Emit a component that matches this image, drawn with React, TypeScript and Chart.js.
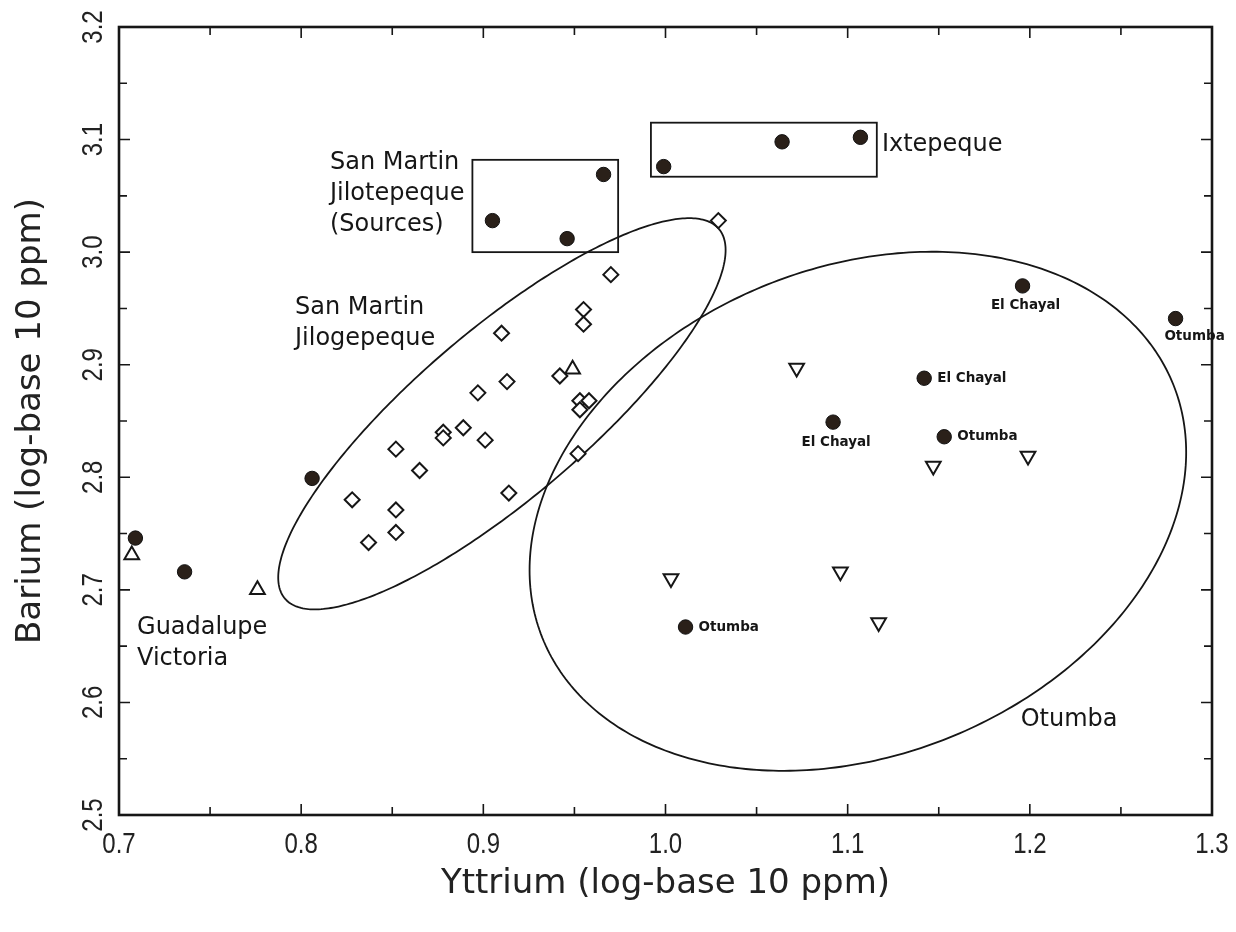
import React, { useEffect, useRef } from 'react';
import { Chart, registerables } from 'chart.js';

Chart.register(...registerables);

// ---------- data ----------
const circleX = [0.709, 0.736, 0.806, 0.905, 0.946, 0.966, 0.999, 1.064, 1.107, 1.196, 1.280, 1.142, 1.092, 1.153, 1.011];
const circleY = [2.746, 2.716, 2.799, 3.028, 3.012, 3.069, 3.076, 3.098, 3.102, 2.970, 2.941, 2.888, 2.849, 2.836, 2.667];
const circleLabels = ['', '', '', '', '', '', '', '', '', 'El Chayal', 'Otumba', 'El Chayal', 'El Chayal', 'Otumba', 'Otumba'];

const diamondX = [1.029, 0.970, 0.955, 0.955, 0.910, 0.942, 0.913, 0.897, 0.953, 0.958, 0.953, 0.878, 0.878, 0.889, 0.901, 0.852, 0.952, 0.865, 0.914, 0.828, 0.852, 0.852, 0.837];
const diamondY = [3.028, 2.980, 2.949, 2.936, 2.928, 2.890, 2.885, 2.875, 2.868, 2.868, 2.860, 2.840, 2.835, 2.844, 2.833, 2.825, 2.821, 2.806, 2.786, 2.780, 2.771, 2.751, 2.742];

const upTriX = [0.707, 0.776, 0.949];
const upTriY = [2.731, 2.700, 2.896];

const downTriX = [1.072, 1.147, 1.199, 1.003, 1.096, 1.117];
const downTriY = [2.897, 2.810, 2.819, 2.710, 2.716, 2.671];

// rectangles around source groups (data units)
const boxLeft = [0.894, 0.992];
const boxRight = [0.974, 1.116];
const boxBottom = [3.000, 3.067];
const boxTop = [3.082, 3.115];

// ellipses: centre and two conjugate half-axes (data units)
const ellipseCX = [0.9102, 1.1056];
const ellipseCY = [2.8564, 2.7698];
const ellipseAxisA = [[0.1191, 0.1642], [0.1732, 0.1124]];
const ellipseAxisB = [[0.0299, -0.0569], [0.0498, -0.2013]];

// annotation texts and anchors (data units, anchor = left / first line)
const noteLines = [['San Martin', 'Jilotepeque', '(Sources)'], ['San Martin', 'Jilogepeque'], ['Guadalupe', 'Victoria'], ['Ixtepeque'], ['Otumba']];
const noteX = [0.8158, 0.7966, 0.7099, 1.1188, 1.195];
const noteY = [3.079, 2.951, 2.666, 3.095, 2.585];

// ticks
const xMajorTicks = [0.7, 0.8, 0.9, 1.0, 1.1, 1.2, 1.3];
const xTickLabels = ['0.7', '0.8', '0.9', '1.0', '1.1', '1.2', '1.3'];
const xMinorTicks = [0.75, 0.85, 0.95, 1.05, 1.15, 1.25];
const yMajorTicks = [2.5, 2.6, 2.7, 2.8, 2.9, 3.0, 3.1, 3.2];
const yTickLabels = ['2.5', '2.6', '2.7', '2.8', '2.9', '3.0', '3.1', '3.2'];
const yMinorTicks = [2.55, 2.65, 2.75, 2.85, 2.95, 3.05, 3.15];

const xTitle = 'Yttrium (log-base 10 ppm)';
const yTitle = 'Barium (log-base 10 ppm)';

// ---------- styles ----------
const INK = '#161616';
const DOT = '#2a2019';
const TXT_FONT = "'DejaVu Sans', 'Liberation Sans', sans-serif";
const NUM_FONT = "'Liberation Sans', 'DejaVu Sans', sans-serif";
const labelPlacement = ['', '', '', '', '', '', '', '', '', 'below', 'belowRight', 'right', 'below', 'right', 'right'];

const zip = (xs: number[], ys: number[]) => xs.map((x, i) => ({ x, y: ys[i] }));

const decorPlugin = {
  id: 'decor',
  beforeDraw(chart: any) {
    const { ctx, width, height } = chart;
    ctx.save();
    ctx.fillStyle = '#ffffff';
    ctx.fillRect(0, 0, width, height);
    ctx.restore();
  },
  beforeDatasetsDraw(chart: any) {
    const { ctx } = chart;
    const xs = chart.scales.x;
    const ys = chart.scales.y;
    ctx.save();
    ctx.strokeStyle = INK;
    ctx.lineWidth = 1.8;
    // ellipses
    for (let i = 0; i < ellipseCX.length; i++) {
      ctx.beginPath();
      for (let k = 0; k <= 360; k++) {
        const t = (k * Math.PI) / 180;
        const dx = ellipseCX[i] + Math.cos(t) * ellipseAxisA[i][0] + Math.sin(t) * ellipseAxisB[i][0];
        const dy = ellipseCY[i] + Math.cos(t) * ellipseAxisA[i][1] + Math.sin(t) * ellipseAxisB[i][1];
        const px = xs.getPixelForValue(dx);
        const py = ys.getPixelForValue(dy);
        if (k === 0) ctx.moveTo(px, py);
        else ctx.lineTo(px, py);
      }
      ctx.closePath();
      ctx.stroke();
    }
    // boxes
    for (let i = 0; i < boxLeft.length; i++) {
      const l = xs.getPixelForValue(boxLeft[i]);
      const r = xs.getPixelForValue(boxRight[i]);
      const t = ys.getPixelForValue(boxTop[i]);
      const b = ys.getPixelForValue(boxBottom[i]);
      ctx.strokeRect(l, t, r - l, b - t);
    }
    ctx.restore();
  },
  afterDatasetsDraw(chart: any) {
    const { ctx, chartArea } = chart;
    const xs = chart.scales.x;
    const ys = chart.scales.y;
    ctx.save();
    ctx.fillStyle = INK;

    // point labels
    ctx.font = `bold 13.5px ${TXT_FONT}`;
    ctx.textBaseline = 'middle';
    for (let i = 0; i < circleLabels.length; i++) {
      if (!circleLabels[i]) continue;
      const px = xs.getPixelForValue(circleX[i]);
      const py = ys.getPixelForValue(circleY[i]);
      const p = labelPlacement[i];
      if (p === 'below') {
        ctx.textAlign = 'center';
        ctx.fillText(circleLabels[i], px + 3, py + 20);
      } else if (p === 'belowRight') {
        ctx.textAlign = 'center';
        ctx.fillText(circleLabels[i], px + 19, py + 18);
      } else {
        ctx.textAlign = 'left';
        ctx.fillText(circleLabels[i], px + 13, py);
      }
    }

    // annotations
    ctx.font = `24px ${TXT_FONT}`;
    ctx.textAlign = 'left';
    ctx.textBaseline = 'middle';
    for (let i = 0; i < noteLines.length; i++) {
      const px = xs.getPixelForValue(noteX[i]);
      const py = ys.getPixelForValue(noteY[i]);
      noteLines[i].forEach((line, j) => ctx.fillText(line, px, py + j * 31));
    }

    // frame
    ctx.strokeStyle = INK;
    ctx.lineWidth = 2.6;
    ctx.strokeRect(chartArea.left, chartArea.top, chartArea.right - chartArea.left, chartArea.bottom - chartArea.top);

    // inward ticks on all four sides
    ctx.lineWidth = 1.6;
    const drawX = (v: number, len: number) => {
      const px = xs.getPixelForValue(v);
      ctx.beginPath();
      ctx.moveTo(px, chartArea.bottom);
      ctx.lineTo(px, chartArea.bottom - len);
      ctx.moveTo(px, chartArea.top);
      ctx.lineTo(px, chartArea.top + len);
      ctx.stroke();
    };
    const drawY = (v: number, len: number) => {
      const py = ys.getPixelForValue(v);
      ctx.beginPath();
      ctx.moveTo(chartArea.left, py);
      ctx.lineTo(chartArea.left + len, py);
      ctx.moveTo(chartArea.right, py);
      ctx.lineTo(chartArea.right - len, py);
      ctx.stroke();
    };
    xMajorTicks.forEach((v) => drawX(v, 11));
    xMinorTicks.forEach((v) => drawX(v, 8));
    yMajorTicks.forEach((v) => drawY(v, 11));
    yMinorTicks.forEach((v) => drawY(v, 8));

    // tick labels (condensed)
    ctx.font = `30px ${NUM_FONT}`;
    ctx.textAlign = 'center';
    ctx.textBaseline = 'middle';
    ctx.fillStyle = '#222';
    xMajorTicks.forEach((v, i) => {
      const px = xs.getPixelForValue(v);
      ctx.save();
      ctx.translate(px, chartArea.bottom + 30);
      ctx.scale(0.8, 1);
      ctx.fillText(xTickLabels[i], 0, 0);
      ctx.restore();
    });
    yMajorTicks.forEach((v, i) => {
      const py = ys.getPixelForValue(v);
      ctx.save();
      ctx.translate(chartArea.left - 25, py);
      ctx.rotate(-Math.PI / 2);
      ctx.scale(0.8, 1);
      ctx.fillText(yTickLabels[i], 0, 0);
      ctx.restore();
    });
    ctx.restore();
  },
};

export default function App() {
  const ref = useRef<HTMLCanvasElement>(null);
  useEffect(() => {
    document.body.style.margin = '0';
    const canvas = ref.current;
    if (!canvas) return;
    const hollow = {
      backgroundColor: '#ffffff',
      borderColor: INK,
      borderWidth: 2,
      showLine: false,
    };
    const chart = new Chart(canvas, {
      type: 'scatter',
      data: {
        datasets: [
          { ...hollow, data: zip(diamondX, diamondY), pointStyle: 'rectRot', pointRadius: 7.5 },
          { data: zip(diamondX, diamondY), pointStyle: 'circle', pointRadius: 1.3, backgroundColor: INK, borderWidth: 0 },
          { ...hollow, data: zip(upTriX, upTriY), pointStyle: 'triangle', pointRadius: 8.5 },
          { ...hollow, data: zip(downTriX, downTriY), pointStyle: 'triangle', pointRotation: 180, pointRadius: 8.5 },
          { data: zip(upTriX.concat(downTriX), upTriY.concat(downTriY)), pointStyle: 'circle', pointRadius: 1.2, backgroundColor: INK, borderWidth: 0 },
          { data: zip(circleX, circleY), pointStyle: 'circle', pointRadius: 7.2, backgroundColor: DOT, borderColor: '#111', borderWidth: 1 },
        ] as any,
      },
      options: {
        responsive: false,
        animation: false,
        devicePixelRatio: 1,
        layout: { padding: { top: 27, right: 24, left: 0, bottom: 0 } },
        plugins: { legend: { display: false }, tooltip: { enabled: false } },
        scales: {
          x: {
            type: 'linear',
            min: 0.7,
            max: 1.3,
            grid: { display: false, drawTicks: false },
            border: { display: false },
            ticks: { display: false },
            title: {
              display: true,
              text: xTitle,
              color: '#222',
              font: { family: TXT_FONT, size: 34 },
              padding: { top: 0, bottom: 27 },
            },
            afterFit: (s: any) => { s.height = 117; },
          },
          y: {
            type: 'linear',
            min: 2.5,
            max: 3.2,
            grid: { display: false, drawTicks: false },
            border: { display: false },
            ticks: { display: false },
            title: {
              display: true,
              text: yTitle,
              color: '#222',
              font: { family: TXT_FONT, size: 34 },
              padding: { top: 11, bottom: 0 },
            },
            afterFit: (s: any) => { s.width = 119; },
          },
        },
      } as any,
      plugins: [decorPlugin],
    });
    return () => chart.destroy();
  }, []);
  return (
    <div style={{ width: 1236, height: 932, background: '#fff' }}>
      <canvas ref={ref} width={1236} height={932} style={{ display: 'block' }} />
    </div>
  );
}
